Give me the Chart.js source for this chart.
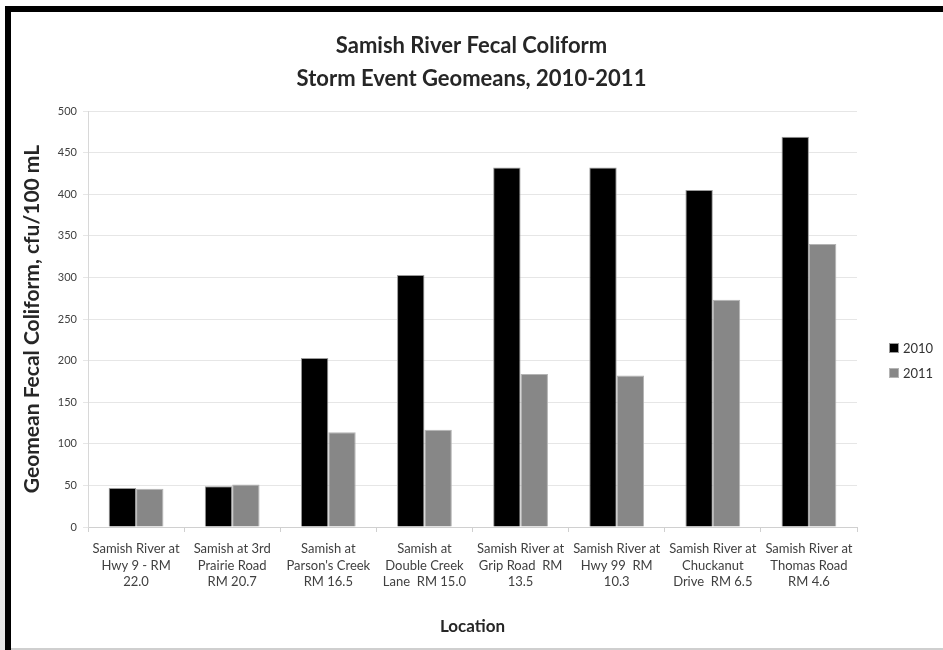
<!DOCTYPE html>
<html>
<head>
<meta charset="utf-8">
<title>Samish River Fecal Coliform</title>
<script src="https://cdn.jsdelivr.net/npm/chart.js@4/dist/chart.umd.min.js"></script>
<style>
  html, body { margin: 0; padding: 0; background: #ffffff; }
  #wrap { width: 943px; height: 650px; }
</style>
</head>
<body>
<div id="wrap"><canvas id="c" width="943" height="650"></canvas></div>
<script>
// Sampling locations (river mile), one multi-line label each
const locations = [
  ["Samish River at", "Hwy 9 - RM", "22.0"],
  ["Samish at 3rd", "Prairie Road", "RM 20.7"],
  ["Samish at", "Parson's Creek", "RM 16.5"],
  ["Samish at", "Double Creek", "Lane  RM 15.0"],
  ["Samish River at", "Grip Road  RM", "13.5"],
  ["Samish River at", "Hwy 99  RM", "10.3"],
  ["Samish River at", "Chuckanut", "Drive  RM 6.5"],
  ["Samish River at", "Thomas Road", "RM 4.6"]
];

// Storm event geomeans, cfu/100 mL
const geomean2010 = [47, 49, 203, 303, 432, 432, 405, 469];
const geomean2011 = [46, 51, 114, 117, 184, 182, 273, 340];

const seriesNames = ["2010", "2011"];
const yTicks = [0, 50, 100, 150, 200, 250, 300, 350, 400, 450, 500];

const FONT = "Lato, 'Open Sans', 'DejaVu Sans', sans-serif";

// Page frame: dark rule across the top and down the left side
const framePlugin = {
  id: 'frame',
  beforeDraw(chart) {
    const ctx = chart.ctx;
    ctx.save();
    ctx.fillStyle = '#ffffff';
    ctx.fillRect(0, 0, chart.width, chart.height);
    const g = ctx.createLinearGradient(0, 0, 0, chart.height);
    g.addColorStop(0, '#ffffff');
    g.addColorStop(0.6, '#f4f4f4');
    g.addColorStop(1, '#e4e4e4');
    ctx.fillStyle = g;
    ctx.fillRect(0, 0, 5, chart.height);
    ctx.fillStyle = '#000000';
    ctx.fillRect(5, 6, chart.width - 5, 6);
    ctx.fillRect(5, 6, 6, chart.height - 6);
    ctx.fillStyle = '#cfcfcf';
    ctx.fillRect(11, chart.height - 2, chart.width - 11, 2);
    ctx.restore();
  }
};

// Legend as a layout box on the right, built from the datasets
const sideLegend = {
  id: 'sideLegend',
  beforeInit(chart) {
    const box = {
      position: 'right',
      weight: 1000,
      fullSize: false,
      options: { stackWeight: 1 },
      top: 0, left: 0, right: 0, bottom: 0, width: 0, height: 0,
      isHorizontal() { return false; },
      update(maxWidth, maxHeight) {
        this.width = 86;
        this.height = maxHeight;
      },
      draw() {
        const ctx = chart.ctx;
        ctx.save();
        ctx.font = "13px " + FONT;
        ctx.textBaseline = 'middle';
        ctx.textAlign = 'left';
        const x = this.left + 32, y0 = 348, step = 25, size = 10;
        chart.data.datasets.forEach((ds, i) => {
          const y = y0 + i * step;
          ctx.fillStyle = ds.backgroundColor;
          ctx.fillRect(x, y - size / 2, size, size);
          ctx.strokeStyle = ds.borderColor;
          ctx.lineWidth = 1;
          ctx.strokeRect(x + 0.5, y - size / 2 + 0.5, size - 1, size - 1);
          ctx.fillStyle = '#333333';
          ctx.fillText(ds.label, x + size + 4, y + 1);
        });
        ctx.restore();
      }
    };
    Chart.layouts.addBox(chart, box);
  }
};

new Chart(document.getElementById('c'), {
  type: 'bar',
  data: {
    labels: locations,
    datasets: [
      {
        label: seriesNames[0],
        data: geomean2010,
        backgroundColor: '#000000',
        borderColor: '#9a9a9a',
        borderWidth: 1
      },
      {
        label: seriesNames[1],
        data: geomean2011,
        backgroundColor: '#878787',
        borderColor: '#b4b4b4',
        borderWidth: 1
      }
    ]
  },
  options: {
    responsive: false,
    animation: false,
    devicePixelRatio: 1,
    categoryPercentage: 0.57,
    barPercentage: 1.0,
    layout: { padding: { left: 0, right: 0, top: 13, bottom: 0 } },
    plugins: {
      legend: { display: false },
      tooltip: { enabled: false },
      title: {
        display: true,
        text: ["Samish River Fecal Coliform", "Storm Event Geomeans, 2010-2011"],
        color: '#262626',
        font: { family: FONT, size: 22, weight: 'bold', lineHeight: 1.5 },
        padding: { top: 16, bottom: 16 }
      }
    },
    scales: {
      x: {
        afterFit(scale) { scale.height = 123; },
        grid: {
          drawOnChartArea: false,
          drawTicks: true,
          tickLength: 5,
          color: '#d0d0d0'
        },
        border: { display: true, color: '#d0d0d0' },
        ticks: {
          color: '#404040',
          font: { family: FONT, size: 13, lineHeight: 1.3 },
          padding: 8,
          maxRotation: 0,
          autoSkip: false
        },
        title: {
          display: true,
          text: 'Location',
          color: '#262626',
          font: { family: FONT, size: 17, weight: 'bold', lineHeight: 1.2 },
          padding: { top: 0, bottom: 13 }
        }
      },
      y: {
        min: 0,
        max: 500,
        afterFit(scale) { scale.width = 88; },
        afterBuildTicks(scale) { scale.ticks = yTicks.map(v => ({ value: v })); },
        grid: {
          color: '#e6e6e6',
          drawTicks: true,
          tickLength: 5
        },
        border: { display: true, color: '#d8d8d8' },
        ticks: {
          color: '#404040',
          font: { family: FONT, size: 11 },
          padding: 6
        },
        title: {
          display: true,
          text: 'Geomean Fecal Coliform, cfu/100 mL',
          color: '#262626',
          font: { family: FONT, size: 21, weight: 'bold', lineHeight: 1.2 },
          padding: { top: 20, bottom: 0 }
        }
      }
    }
  },
  plugins: [framePlugin, sideLegend]
});
</script>
</body>
</html>
